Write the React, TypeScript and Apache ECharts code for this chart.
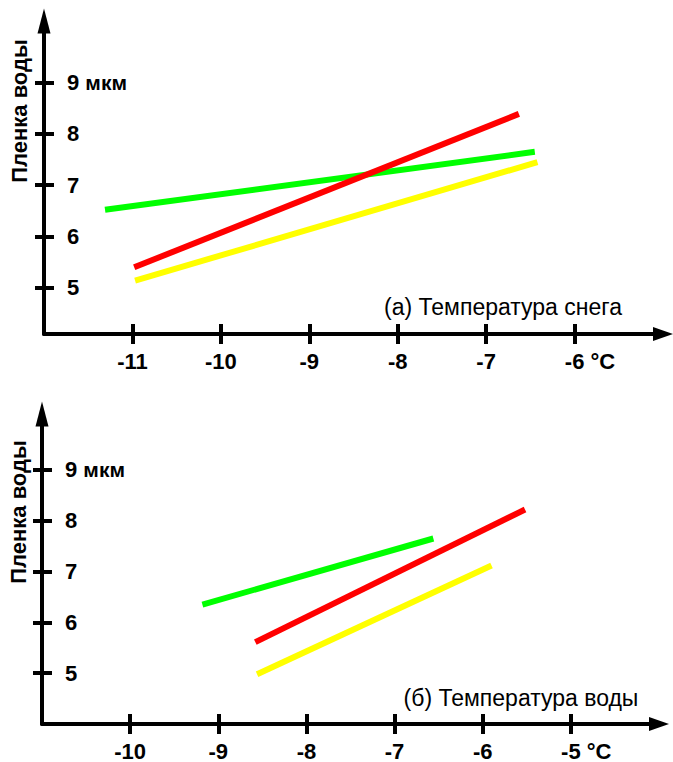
import React, { useEffect, useRef } from "react";
import * as echarts from "echarts";

// Top chart (а) — snow temperature
const snowTicksX = [-11, -10, -9, -8, -7, -6];
const ticksY = [5, 6, 7, 8, 9];
const snowGreen = [[-11.31, 6.52], [-6.45, 7.65]];
const snowRed = [[-10.98, 5.4], [-6.63, 8.39]];
const snowYellow = [[-10.97, 5.14], [-6.42, 7.45]];

// Bottom chart (б) — water temperature
const waterTicksX = [-10, -9, -8, -7, -6, -5];
const waterGreen = [[-9.18, 6.35], [-6.56, 7.65]];
const waterRed = [[-8.58, 5.61], [-5.52, 8.22]];
const waterYellow = [[-8.56, 4.98], [-5.9, 7.12]];

const yName = "Пленка воды";
const titleSnow = "(а) Температура снега";
const titleWater = "(б) Температура воды";
const unitY = "мкм";
const unitX = "°C";

const FONT = "'Liberation Sans', Arial, sans-serif";

export default function App() {
  const ref = useRef<HTMLDivElement>(null);
  useEffect(() => {
    document.body.style.margin = "0";
    const chart = echarts.init(ref.current!, null, { renderer: "svg" });

    const mkX = (grid: number, min: number, max: number, ticks: number[], lastLabel: number) => [
      {
        type: "value",
        gridIndex: grid,
        min,
        max,
        position: "bottom",
        splitLine: { show: false },
        axisLine: {
          show: true,
          onZero: false,
          symbol: ["none", "triangle"],
          symbolSize: [14, 20],
          lineStyle: { color: "#000", width: 4 },
        },
        axisTick: { show: true, length: 10, inside: false, customValues: ticks, lineStyle: { color: "#000", width: 4 } },
        axisLabel: {
          show: true,
          customValues: ticks,
          margin: 16,
          color: "#000",
          fontFamily: FONT,
          fontWeight: "bold",
          fontSize: 22,
          formatter: (v: number) => (v === lastLabel ? `{h| ${unitX}}${v} ${unitX}` : `${v}`),
          rich: { h: { color: "rgba(0,0,0,0)", fontFamily: FONT, fontWeight: "bold", fontSize: 22 } },
        },
      },
      {
        type: "value",
        gridIndex: grid,
        min,
        max,
        position: "bottom",
        splitLine: { show: false },
        axisLine: { show: false, onZero: false },
        axisTick: { show: true, length: 10, inside: true, customValues: ticks, lineStyle: { color: "#000", width: 4 } },
        axisLabel: { show: false },
      },
    ];

    const mkY = (grid: number, min: number, max: number) => [
      {
        type: "value",
        gridIndex: grid,
        min,
        max,
        position: "left",
        splitLine: { show: false },
        axisLine: {
          show: true,
          onZero: false,
          symbol: ["none", "triangle"],
          symbolSize: [13, 25],
          lineStyle: { color: "#000", width: 4 },
        },
        axisTick: { show: true, length: 9, inside: false, customValues: ticksY, lineStyle: { color: "#000", width: 4 } },
        axisLabel: {
          show: true,
          inside: true,
          customValues: ticksY,
          margin: 23,
          color: "#000",
          fontFamily: FONT,
          fontWeight: "bold",
          fontSize: 22,
          formatter: (v: number) => (v === 9 ? `9 {u|${unitY}}` : `${v}`),
          rich: { u: { fontFamily: FONT, fontWeight: "bold", fontSize: 21, color: "#000" } },
        },
      },
      {
        type: "value",
        gridIndex: grid,
        min,
        max,
        position: "left",
        splitLine: { show: false },
        axisLine: { show: false, onZero: false },
        axisTick: { show: true, length: 10, inside: true, customValues: ticksY, lineStyle: { color: "#000", width: 4 } },
        axisLabel: { show: false },
      },
    ];

    const line = (data: number[][], color: string, x: number, y: number) => ({
      type: "line",
      xAxisIndex: x,
      yAxisIndex: y,
      data,
      symbol: "none",
      lineStyle: { color, width: 6, cap: "butt" },
      silent: true,
    });

    const nameStyle = { text: yName, fontFamily: FONT, fontWeight: "bold", fontSize: 22, fill: "#000", textAlign: "center", textVerticalAlign: "middle" };
    const titleStyle = { fontFamily: FONT, fontSize: 23, fill: "#000", textAlign: "center", textVerticalAlign: "middle" };

    chart.setOption({
      animation: false,
      grid: [
        { left: 44, top: 21, width: 619, height: 313 },
        { left: 42, top: 414, width: 617, height: 311 },
      ],
      xAxis: [...mkX(0, -12, -5, snowTicksX, -6), ...mkX(1, -11, -4, waterTicksX, -5)],
      yAxis: [...mkY(0, 4.1, 10.2), ...mkY(1, 4, 10.1)],
      series: [
        line(snowGreen, "#00ff00", 0, 0),
        line(snowRed, "#ff0000", 0, 0),
        line(snowYellow, "#ffff00", 0, 0),
        line(waterGreen, "#00ff00", 2, 2),
        line(waterRed, "#ff0000", 2, 2),
        line(waterYellow, "#ffff00", 2, 2),
      ],
      graphic: [
        { type: "text", x: 19, y: 111, rotation: Math.PI / 2, style: nameStyle },
        { type: "text", x: 18, y: 512, rotation: Math.PI / 2, style: nameStyle },
        { type: "text", x: 503, y: 307, style: { ...titleStyle, text: titleSnow } },
        { type: "text", x: 521, y: 698, style: { ...titleStyle, text: titleWater } },
      ],
    });
    return () => chart.dispose();
  }, []);
  return <div ref={ref} style={{ width: 673, height: 762 }} />;
}
